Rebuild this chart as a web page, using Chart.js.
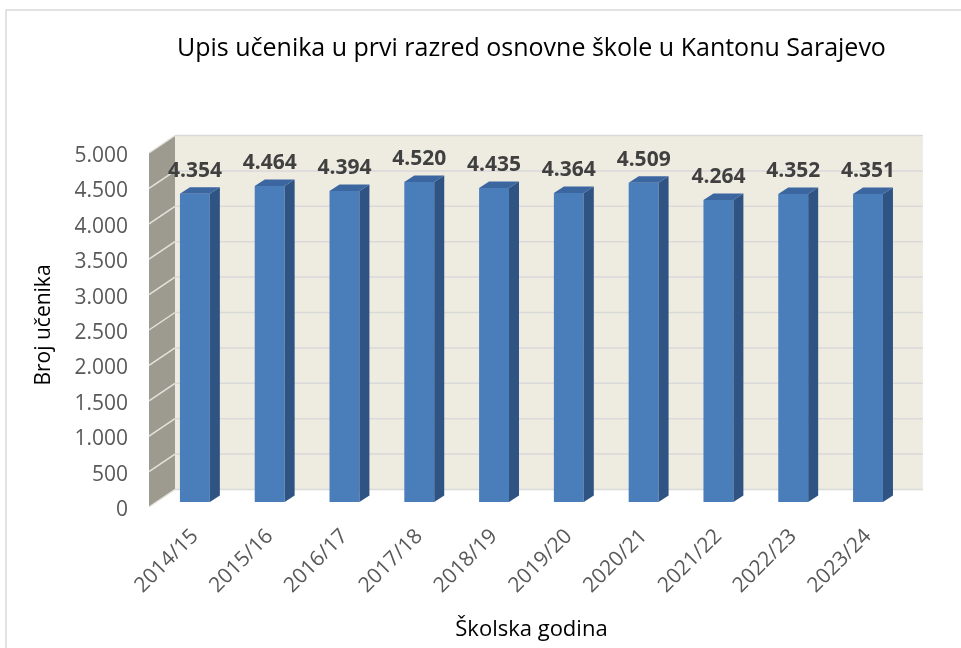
<!DOCTYPE html>
<html>
<head>
<meta charset="utf-8">
<script src="https://cdn.jsdelivr.net/npm/chart.js@4/dist/chart.umd.min.js"></script>
<style>
    html, body { margin: 0; padding: 0; background: #ffffff; }
    #wrap { position: relative; width: 961px; height: 648px; }
</style>
</head>
<body>
<div id="wrap"><canvas id="chart-upis"></canvas></div>
<script>
// Data
const schoolYears = ['2014/15', '2015/16', '2016/17', '2017/18', '2018/19', '2019/20', '2020/21', '2021/22', '2022/23', '2023/24'];
const enrolled = [4354, 4464, 4394, 4520, 4435, 4364, 4509, 4264, 4352, 4351];
const yMin = 0;
const yMax = 5000;
const yStep = 500;

const chartTitle = 'Upis učenika u prvi razred osnovne škole u Kantonu Sarajevo';
const yTitle = 'Broj učenika';
const xTitle = 'Školska godina';

// Offsets used to fake Excel's 3D look (relative to the bar plane)
const backOff = { x: 17.5, y: -12.5 };
const frontOff = { x: -8.5, y: 5 };
const barDepth = { x: 10, y: -6.5 };

const fmt = v => String(v).replace(/\B(?=(\d{3})+(?!\d))/g, '.');

// Chart frame, walls and grid lines
const wallsPlugin = {
    id: 'walls3d',
    beforeDraw(chart) {
        const ctx = chart.ctx;
        ctx.save();
        ctx.strokeStyle = '#d9d9d9';
        ctx.lineWidth = 1.5;
        ctx.strokeRect(6, 10, 2000, 2000);
        ctx.restore();
    },
    beforeDatasetsDraw(chart) {
        const { ctx, chartArea: ca } = chart;
        const ys = chart.scales.y;
        ctx.save();

        // back wall
        ctx.fillStyle = '#eeece1';
        ctx.fillRect(ca.left + backOff.x, ca.top + backOff.y, ca.right - ca.left, ca.bottom - ca.top);

        // side wall
        ctx.fillStyle = '#9d9b90';
        ctx.beginPath();
        ctx.moveTo(ca.left + frontOff.x, ca.top + frontOff.y);
        ctx.lineTo(ca.left + backOff.x, ca.top + backOff.y);
        ctx.lineTo(ca.left + backOff.x, ca.bottom + backOff.y);
        ctx.lineTo(ca.left + frontOff.x, ca.bottom + frontOff.y);
        ctx.closePath();
        ctx.fill();

        // grid lines on both walls
        ys.ticks.forEach(t => {
            const y = ys.getPixelForValue(t.value);
            ctx.strokeStyle = '#d9d9d9';
            ctx.lineWidth = 1.5;
            ctx.beginPath();
            ctx.moveTo(ca.left + backOff.x, y + backOff.y);
            ctx.lineTo(ca.right + backOff.x, y + backOff.y);
            ctx.stroke();

            ctx.strokeStyle = '#e4e3dc';
            ctx.beginPath();
            ctx.moveTo(ca.left + frontOff.x, y + frontOff.y);
            ctx.lineTo(ca.left + backOff.x, y + backOff.y);
            ctx.stroke();
        });
        ctx.restore();
    },
    afterDatasetsDraw(chart) {
        const ctx = chart.ctx;
        const meta = chart.getDatasetMeta(0);
        ctx.save();
        meta.data.forEach((bar, i) => {
            const p = bar.getProps(['x', 'y', 'base', 'width'], true);
            const left = p.x - p.width / 2;
            const right = p.x + p.width / 2;

            // side face
            ctx.fillStyle = '#2f5382';
            ctx.beginPath();
            ctx.moveTo(right, p.y);
            ctx.lineTo(right + barDepth.x, p.y + barDepth.y);
            ctx.lineTo(right + barDepth.x, p.base + barDepth.y);
            ctx.lineTo(right, p.base);
            ctx.closePath();
            ctx.fill();

            // top face
            ctx.fillStyle = '#3b66a0';
            ctx.beginPath();
            ctx.moveTo(left, p.y);
            ctx.lineTo(left + barDepth.x, p.y + barDepth.y);
            ctx.lineTo(right + barDepth.x, p.y + barDepth.y);
            ctx.lineTo(right, p.y);
            ctx.closePath();
            ctx.fill();

            // value label
            ctx.fillStyle = '#404040';
            ctx.font = 'bold 21px "Open Sans", sans-serif';
            ctx.textAlign = 'center';
            ctx.textBaseline = 'alphabetic';
            ctx.fillText(fmt(enrolled[i]), p.x, p.y - 17);
        });
        ctx.restore();
    }
};

new Chart(document.getElementById('chart-upis'), {
    type: 'bar',
    data: {
        labels: schoolYears,
        datasets: [{
            label: yTitle,
            data: enrolled,
            backgroundColor: '#4a7ebb',
            borderWidth: 0,
            barPercentage: 0.4,
            categoryPercentage: 1.0
        }]
    },
    options: {
        responsive: true,
        maintainAspectRatio: false,
        animation: false,
        layout: { padding: { top: 10, right: 55.6, bottom: 0, left: 0 } },
        plugins: {
            legend: { display: false },
            tooltip: { enabled: false },
            title: {
                display: true,
                text: chartTitle,
                fullSize: false,
                color: '#000000',
                font: { family: '"Open Sans", sans-serif', size: 25, weight: 'normal' },
                padding: { top: 24, bottom: 84 }
            }
        },
        scales: {
            x: {
                grid: { display: false, drawTicks: false },
                border: { display: false },
                ticks: {
                    autoSkip: false,
                    minRotation: 45,
                    maxRotation: 45,
                    padding: 22,
                    color: '#595959',
                    font: { family: '"Open Sans", sans-serif', size: 21 }
                },
                title: {
                    display: true,
                    text: xTitle,
                    color: '#000000',
                    font: { family: '"Open Sans", sans-serif', size: 22 },
                    padding: { top: 0, bottom: 5 }
                },
                afterFit: s => { s.height = 146; }
            },
            y: {
                min: yMin,
                max: yMax,
                grid: { display: false, drawTicks: false },
                border: { display: false },
                ticks: {
                    stepSize: yStep,
                    padding: 29.5,
                    labelOffset: 8,
                    color: '#595959',
                    font: { family: '"Open Sans", sans-serif', size: 21 },
                    callback: v => fmt(v)
                },
                title: {
                    display: true,
                    text: yTitle,
                    color: '#000000',
                    font: { family: '"Open Sans", sans-serif', size: 21 },
                    padding: { top: 31.4, bottom: 0 }
                },
                afterFit: s => { s.width = 157.5; }
            }
        }
    },
    plugins: [wallsPlugin]
});
</script>
</body>
</html>
